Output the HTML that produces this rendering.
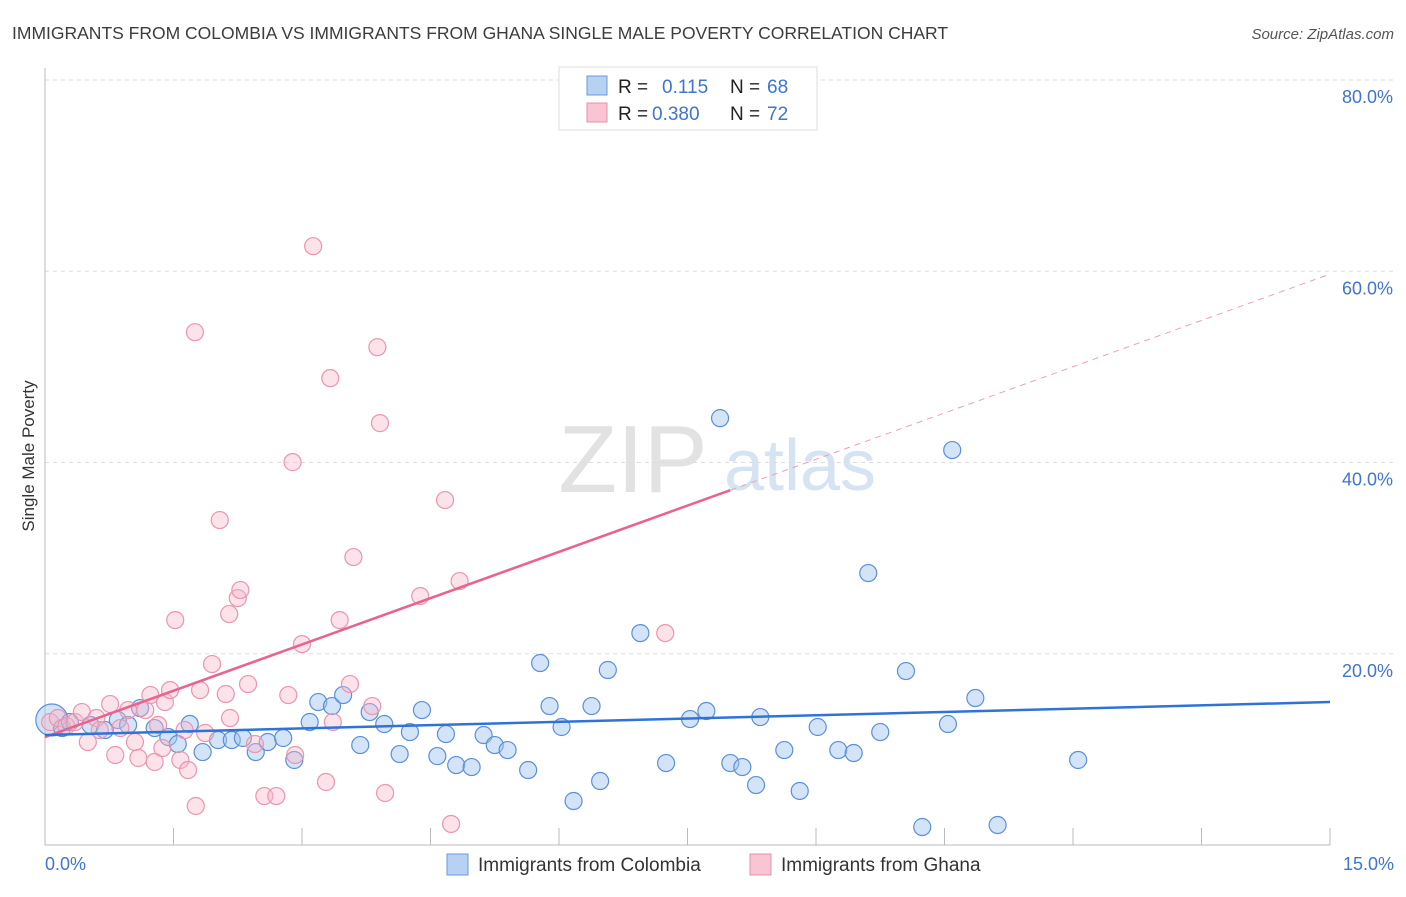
<!DOCTYPE html>
<html><head><meta charset="utf-8"><style>
body{margin:0;background:#fff;font-family:"Liberation Sans",sans-serif;}
svg text{font-family:"Liberation Sans",sans-serif;}
</style></head><body>
<svg id="chart" width="1406" height="892" xmlns="http://www.w3.org/2000/svg">
<text x="12" y="39" font-size="17.5" fill="#3c3c3c">IMMIGRANTS FROM COLOMBIA VS IMMIGRANTS FROM GHANA SINGLE MALE POVERTY CORRELATION CHART</text>
<text x="1394" y="39" font-size="15" fill="#555" text-anchor="end" font-style="italic">Source: ZipAtlas.com</text>
<text transform="translate(34,456) rotate(-90)" font-size="17" fill="#333" text-anchor="middle">Single Male Poverty</text>
<g><text x="633" y="492" font-size="96" fill="#e2e2e2" font-family="Liberation Serif" text-anchor="middle">ZIP</text><text x="800" y="490" font-size="72" fill="#d6e3f2" text-anchor="middle">atlas</text></g>
<g id="grid"></g><g id="axes"></g><g id="marks"></g>
<g>
<rect x="559" y="67" width="258" height="63" fill="#fff" stroke="#ddd"/>
<rect x="587" y="76" width="20" height="19" fill="#b7d1f3" stroke="#6b9bd8"/>
<rect x="587" y="103" width="20" height="19" fill="#f9c5d4" stroke="#e890aa"/>
<text x="618" y="93" font-size="19" fill="#222">R = </text><text x="662" y="93" font-size="19" fill="#3f74d0">0.115</text>
<text x="730" y="93" font-size="19" fill="#222">N = </text><text x="767" y="93" font-size="19" fill="#3f74d0">68</text>
<text x="618" y="120" font-size="19" fill="#222">R = </text><text x="652" y="120" font-size="19" fill="#3f74d0">0.380</text>
<text x="730" y="120" font-size="19" fill="#222">N = </text><text x="767" y="120" font-size="19" fill="#3f74d0">72</text>
</g>
<g>
<rect x="447" y="854" width="21" height="21" fill="#b7d1f3" stroke="#6b9bd8"/>
<text x="478" y="871" font-size="19" fill="#333">Immigrants from Colombia</text>
<rect x="750" y="854" width="21" height="21" fill="#f9c5d4" stroke="#e890aa"/>
<text x="781" y="871" font-size="19" fill="#333">Immigrants from Ghana</text>
</g>
</svg>
<script>
const yTicks=[20,40,60,80];
const yTickLabels=["20.0%","40.0%","60.0%","80.0%"];
const xTickLabels=["0.0%","15.0%"];
const colombiaX=[0.08,0.20,0.29,0.53,0.70,0.85,0.97,1.11,1.28,1.44,1.55,1.69,1.84,2.02,2.18,2.31,2.46,2.60,2.78,2.91,3.09,3.19,3.35,3.48,3.68,3.79,3.96,4.14,4.26,4.40,4.58,4.68,4.80,4.98,5.12,5.25,5.40,5.64,5.78,5.89,6.03,6.17,6.38,6.48,6.57,6.95,7.25,7.53,7.72,7.88,8.00,8.14,8.30,8.35,8.63,8.81,9.02,9.26,9.44,9.61,9.75,10.05,10.24,10.54,10.59,10.86,11.12,12.06];
const colombiaY=[13.07,12.23,12.86,12.55,12.02,13.07,12.55,14.32,12.23,11.29,10.56,12.65,9.72,10.98,10.98,11.19,9.72,10.77,11.19,8.89,12.86,14.95,14.53,15.68,10.45,13.90,12.65,9.51,11.81,14.11,9.30,11.60,8.36,8.15,11.50,10.45,9.93,7.84,19.03,14.53,12.34,4.60,14.53,6.69,18.30,22.16,8.57,13.17,14.01,44.64,8.57,8.15,6.27,13.38,9.93,5.65,12.34,9.93,9.62,28.44,11.81,18.19,1.88,12.65,41.30,15.37,2.09,8.89];
const ghanaX=[0.06,0.15,0.25,0.35,0.43,0.50,0.60,0.64,0.76,0.82,0.88,0.97,1.05,1.09,1.17,1.23,1.28,1.32,1.37,1.40,1.46,1.52,1.58,1.63,1.67,1.75,1.76,1.81,1.87,1.95,2.04,2.11,2.15,2.16,2.25,2.28,2.37,2.45,2.56,2.70,2.84,2.89,2.92,3.00,3.13,3.28,3.33,3.36,3.44,3.56,3.60,3.88,3.91,3.97,3.82,4.38,4.67,4.74,4.84,7.24];
const ghanaY=[12.86,13.28,12.44,12.86,13.90,10.77,13.28,12.02,14.74,9.41,12.23,14.11,10.77,9.10,14.11,15.68,8.68,12.55,10.14,14.95,16.20,23.52,8.89,12.02,7.84,53.63,4.08,16.20,11.71,18.92,33.98,15.79,24.15,13.28,25.82,26.66,16.83,10.56,5.12,5.12,15.68,40.04,9.41,21.01,62.62,6.59,48.82,12.86,23.52,16.83,30.11,52.06,44.12,5.44,14.53,26.03,36.07,2.20,27.60,22.16];
const colombiaTrend=[11.5,14.95];
const ghanaTrend=[11.29,59.7];
const NS="http://www.w3.org/2000/svg";
const X0=45,X1=1330,Y0=845,Y80=80;
function sx(v){return X0+(X1-X0)*v/15;}
function sy(v){return Y0-(Y0-Y80)*v/80;}
function mk(tag,attrs,parent){const e=document.createElementNS(NS,tag);for(const k in attrs)e.setAttribute(k,attrs[k]);parent.appendChild(e);return e;}
const grid=document.getElementById('grid'),axes=document.getElementById('axes'),marks=document.getElementById('marks');
yTicks.forEach((t,i)=>{
 const l=mk('line',{x1:X0,x2:1394,y1:sy(t),y2:sy(t),stroke:'#ddd','stroke-dasharray':'4,4'},grid);
 
 
 const tx=mk('text',{x:1393,y:sy(t)+23,'font-size':18,fill:'#3f74d0','text-anchor':'end'},axes);
 tx.textContent=yTickLabels[i];
 
 
});
const ax=mk('line',{x1:X0,x2:X0,y1:68,y2:Y0,stroke:'#bbb'},axes);


const bx=mk('line',{x1:X0,x2:X1,y1:Y0,y2:Y0,stroke:'#bbb'},axes);


for(let i=1;i<=10;i++){
 const t=mk('line',{x1:sx(i*1.5),x2:sx(i*1.5),y1:828,y2:Y0,stroke:'#bbb'},axes);
 
 
}
const xl0=mk('text',{x:45,y:870,'font-size':18,fill:'#3f74d0'},axes);xl0.textContent=xTickLabels[0];


const xl1=mk('text',{x:1394,y:870,'font-size':18,fill:'#3f74d0','text-anchor':'end'},axes);xl1.textContent=xTickLabels[1];


colombiaX.forEach((x,i)=>{
 const c=mk('circle',{cx:sx(x),cy:sy(colombiaY[i]),r:i==0?16:8.5,fill:'rgba(160,196,240,0.45)',stroke:'#5b8fd9','stroke-width':1.2},marks);
 
 
});
ghanaX.forEach((x,i)=>{
 const c=mk('circle',{cx:sx(x),cy:sy(ghanaY[i]),r:8.5,fill:'rgba(248,182,200,0.4)',stroke:'#eb95af','stroke-width':1.2},marks);
 
 
});
const gy=x=>ghanaTrend[0]+(ghanaTrend[1]-ghanaTrend[0])*x/15;
const gt=mk('line',{x1:sx(0),y1:sy(gy(0)),x2:sx(8),y2:sy(gy(8)),stroke:'#e8648f','stroke-width':2.5},marks);


const gd=mk('line',{x1:sx(8),y1:sy(gy(8)),x2:sx(15),y2:sy(gy(15)),stroke:'#eaa0b8','stroke-width':1,'stroke-dasharray':'6,5'},marks);


const ct=mk('line',{x1:sx(0),y1:sy(colombiaTrend[0]),x2:sx(15),y2:sy(colombiaTrend[1]),stroke:'#2f73d8','stroke-width':2.5},marks);


</script>
</body></html>
